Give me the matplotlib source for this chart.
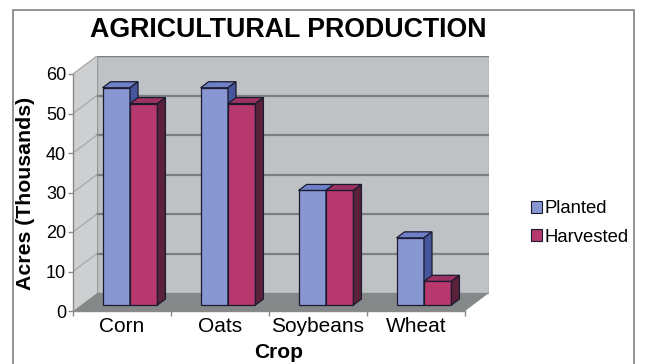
import matplotlib
matplotlib.use("Agg")
import matplotlib.pyplot as plt
from matplotlib.patches import Polygon, Rectangle, Patch
import numpy as np

plt.rcParams['font.family'] = ['Liberation Sans', 'DejaVu Sans']

# data
crops = ["Corn", "Oats", "Soybeans", "Wheat"]
planted = [55, 55, 29, 17]
harvested = [51, 51, 29, 6]
series_names = ["Planted", "Harvested"]
y_ticks = [0, 10, 20, 30, 40, 50, 60]

# colours: front, top, side
blue = ("#8896D2", "#6E80C6", "#46569A")
red = ("#B7386C", "#9C3262", "#5A2238")
edge = "#1a1a30"

W, H = 646, 364
fig = plt.figure(figsize=(W / 100, H / 100), dpi=100)
fig.patch.set_facecolor("white")

# 3-D box depth in data units
DX = 24 / 98.0
DY = 18 / 3.95
YMAX = 60
x0, x1 = -0.5, len(crops) - 0.5

ax = fig.add_axes([73 / W, (H - 311) / H, (392 + 24) / W, (YMAX + DY) * 3.95 / H])
ax.set_xlim(x0, x1 + DX)
ax.set_ylim(0, YMAX + DY)
ax.patch.set_visible(False)

# walls and floor
back = Polygon([(x0 + DX, DY), (x1 + DX, DY), (x1 + DX, YMAX + DY), (x0 + DX, YMAX + DY)],
               closed=True, facecolor="#BFC2C4", edgecolor="#9a9a9a", lw=1, zorder=1)
side = Polygon([(x0, 0), (x0 + DX, DY), (x0 + DX, YMAX + DY), (x0, YMAX)],
               closed=True, facecolor="#CDCFD1", edgecolor="none", zorder=1)
floor = Polygon([(x0, 0), (x1, 0), (x1 + DX, DY), (x0 + DX, DY)],
                closed=True, facecolor="#858888", edgecolor="none", zorder=1)
for p in (back, side, floor):
    ax.add_patch(p)

# gridlines on the walls
for v in y_ticks[1:]:
    ax.plot([x0 + DX, x1 + DX], [v + DY, v + DY], color="#7c7e80", lw=1.6, zorder=2)
    ax.plot([x0, x0 + DX], [v, v + DY], color="#a9abad", lw=1.0, zorder=2)

# bars (front face at one third of the depth)
w = 0.28
bx, by = DX / 3, DY / 3
z = 3
for i in range(len(crops)):
    for j, (vals, cols) in enumerate(((planted, blue), (harvested, red))):
        v = vals[i]
        left = i - w + j * w + bx
        ax.bar(left, v, width=w, bottom=by, align="edge", color=cols[0],
               edgecolor=edge, lw=0.9, zorder=z)
        xr = left + w
        top = v + by
        ax.add_patch(Polygon([(left, top), (xr, top), (xr + bx, top + by), (left + bx, top + by)],
                             closed=True, facecolor=cols[1], edgecolor=edge, lw=0.9, zorder=z))
        ax.add_patch(Polygon([(xr, by), (xr + bx, 2 * by), (xr + bx, top + by), (xr, top)],
                             closed=True, facecolor=cols[2], edgecolor=edge, lw=0.9, zorder=z))
        z += 1

# axes
for s in ("top", "right"):
    ax.spines[s].set_visible(False)
ax.spines["left"].set_bounds(0, YMAX)
ax.spines["bottom"].set_bounds(x0, x1)
for s in ("left", "bottom"):
    ax.spines[s].set_color("#8a8a8a")
    ax.spines[s].set_linewidth(1.0)
    ax.spines[s].set_zorder(2.5)

ax.set_yticks(y_ticks)
ax.set_yticklabels([str(t) for t in y_ticks], fontsize=13)
ax.tick_params(axis="y", length=3.5, width=1, color="#8a8a8a", pad=1.5)

ax.set_xticks(np.arange(len(crops) + 1) - 0.5)
ax.set_xticklabels([])
ax.set_xticks(np.arange(len(crops)), minor=True)
ax.set_xticklabels(crops, minor=True, fontsize=15)
ax.tick_params(axis="x", which="major", length=3.5, width=1, color="#8a8a8a")
ax.tick_params(axis="x", which="minor", length=0, pad=4)

fig.text(288 / W, 1 - 30 / H, "AGRICULTURAL PRODUCTION", ha="center", va="center",
         fontsize=19.3, fontweight="bold")
fig.text(279 / W, 1 - 353 / H, "Crop", ha="center", va="center",
         fontsize=15, fontweight="bold")
fig.text(26 / W, 1 - 193 / H, "Acres (Thousands)", ha="center", va="center",
         rotation=90, fontsize=15.3, fontweight="bold")

# legend
handles = [Patch(facecolor=blue[0], edgecolor=edge, lw=0.8),
           Patch(facecolor=red[0], edgecolor=edge, lw=0.8)]
fig.legend(handles, series_names, loc="center left", bbox_to_anchor=(531 / W, 1 - 223 / H),
           frameon=False, fontsize=13.3, handlelength=0.6, handleheight=0.6,
           handletextpad=0.15, labelspacing=0.62, borderpad=0, borderaxespad=0)

# outer chart border
fig.add_artist(Rectangle((13 / W, -0.02), (634 - 13) / W, 1.02 - 10 / H,
                         transform=fig.transFigure, fill=False, edgecolor="#808080", lw=1.2))

fig.savefig("out.png", dpi=100)
